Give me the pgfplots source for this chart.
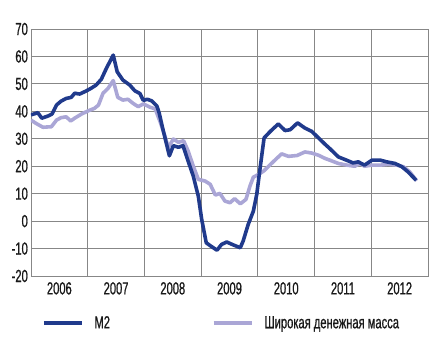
\documentclass[border=0pt]{standalone}
\usepackage{pgfplots}
\pgfplotsset{compat=1.18}
\usepackage{fontspec}
\setmainfont{Liberation Sans}[FakeStretch=0.64, FakeBold=0.8]
\definecolor{mtwo}{RGB}{32,58,140}
\definecolor{broad}{RGB}{170,166,214}
\definecolor{gridc}{RGB}{135,135,135}
\begin{document}
\begin{tikzpicture}
\begin{axis}[
  scale only axis, width=397bp, height=247bp,
  xmin=2006, xmax=2013, ymin=-20, ymax=70,
  ytick={-20,-10,0,10,20,30,40,50,60,70},
  xtick={2006.5,2007.5,2008.5,2009.5,2010.5,2011.5,2012.5},
  xticklabels={2006,2007,2008,2009,2010,2011,2012},
  minor xtick={2007,2008,2009,2010,2011,2012},
  xminorgrids, ymajorgrids,
  major tick length=0pt, minor tick length=0pt,
  grid style={gridc, line width=0.8bp},
  minor grid style={gridc, line width=0.8bp},
  axis line style={gridc, line width=0.8bp},
  tick label style={font=\fontsize{17.5}{19}\selectfont, text=black!90},
  /pgf/number format/assume math mode=true,
  yticklabel style={inner sep=0pt, xshift=-3bp},
  xticklabel style={inner sep=0pt, yshift=-6bp},
  legend columns=2,
  legend style={draw=none, fill=none, inner sep=0pt, outer sep=0pt,
    at={(axis description cs:0,0)}, anchor=west, xshift=11bp, yshift=-47bp,
    font=\fontsize{17.5}{19}\selectfont, text=black!90,
    /tikz/every odd column/.append style={column sep=9bp},
    /tikz/every even column/.append style={column sep=100bp}},
  legend image code/.code={\draw[#1] (0bp,0bp) -- (38bp,0bp);},
]
\addlegendimage{mtwo, line width=3.5bp}
\addlegendentry{M2}
\addlegendimage{broad, line width=3.5bp}
\addlegendentry{Широкая денежная масса}
\addplot[broad, line width=3.6bp, line join=round, forget plot] coordinates {
(2006.00,36.8) (2006.09,35.6) (2006.21,34.2) (2006.36,34.4) (2006.45,36.8)
(2006.53,37.7) (2006.62,38.0) (2006.70,36.5) (2006.77,37.5) (2006.89,39.0)
(2007.01,40.2) (2007.12,41.1) (2007.19,42.3) (2007.27,46.6) (2007.36,48.4)
(2007.45,51.2) (2007.53,45.1) (2007.62,44.1) (2007.71,44.4) (2007.80,42.9)
(2007.89,41.7) (2007.98,42.7) (2008.10,41.5) (2008.19,40.9) (2008.28,36.0)
(2008.36,31.1) (2008.42,26.8) (2008.51,29.9) (2008.60,28.7) (2008.69,29.3)
(2008.77,25.6) (2008.86,20.1) (2008.95,15.2) (2009.07,14.6) (2009.16,13.4)
(2009.25,9.5) (2009.33,10.1) (2009.42,7.3) (2009.51,6.7) (2009.59,8.2)
(2009.69,6.3) (2009.79,7.9) (2009.86,12.7) (2009.92,16.0) (2010.01,17.0)
(2010.10,18.2) (2010.22,20.6) (2010.33,22.8) (2010.42,24.5) (2010.54,23.6)
(2010.69,23.9) (2010.83,25.2) (2010.95,24.8) (2011.07,24.0) (2011.19,22.8)
(2011.27,22.2) (2011.42,21.0) (2011.57,20.4) (2011.71,20.0) (2011.80,21.0)
(2011.88,20.0) (2012.01,20.4) (2012.16,20.4) (2012.30,20.7) (2012.45,20.4)
(2012.57,19.8) (2012.68,17.9) (2012.80,14.7)
};
\addplot[mtwo, line width=3.6bp, line join=round, forget plot] coordinates {
(2006.00,38.7) (2006.12,39.5) (2006.19,37.5) (2006.30,38.3) (2006.37,39.0)
(2006.45,42.3) (2006.53,43.7) (2006.62,44.7) (2006.71,45.1) (2006.77,46.6)
(2006.86,46.3) (2006.98,47.5) (2007.06,48.4) (2007.15,49.6) (2007.24,51.7)
(2007.33,55.7) (2007.45,60.5) (2007.52,54.4) (2007.62,51.4) (2007.74,49.6)
(2007.83,47.5) (2007.92,46.5) (2007.98,44.0) (2008.05,44.4) (2008.13,43.8)
(2008.22,41.9) (2008.26,39.4) (2008.33,33.1) (2008.44,23.8) (2008.51,27.5)
(2008.60,26.9) (2008.68,27.5) (2008.77,21.9) (2008.86,16.5) (2008.95,9.1)
(2009.01,0.6) (2009.09,-7.9) (2009.17,-9.1) (2009.28,-10.6) (2009.36,-8.5)
(2009.45,-7.6) (2009.57,-8.7) (2009.69,-9.7) (2009.74,-7.3) (2009.83,-1.2)
(2009.92,3.6) (2009.98,9.7) (2010.04,19.4) (2010.11,30.3) (2010.22,32.7)
(2010.36,35.4) (2010.48,33.0) (2010.57,33.3) (2010.70,35.8) (2010.83,33.9)
(2010.95,32.7) (2011.07,30.3) (2011.19,27.9) (2011.27,26.4) (2011.42,23.4)
(2011.54,22.4) (2011.68,21.2) (2011.77,21.6) (2011.88,20.4) (2012.01,22.2)
(2012.16,22.2) (2012.27,21.6) (2012.42,21.0) (2012.54,19.8) (2012.65,17.9)
(2012.79,14.9)
};
\end{axis}
\pgfresetboundingbox
\path[use as bounding box] (current axis.south west) ++(-31bp,-77bp) rectangle ++(443bp,353bp);
\end{tikzpicture}
\end{document}
